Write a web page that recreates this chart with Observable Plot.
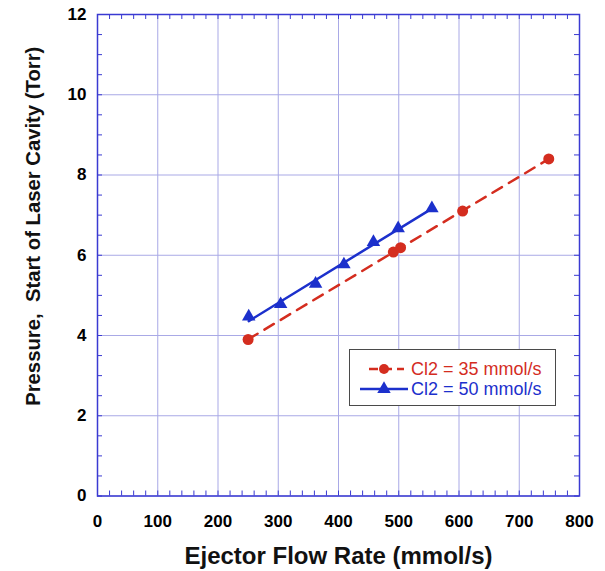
<!DOCTYPE html>
<html><head><meta charset="utf-8">
<script src="https://cdn.jsdelivr.net/npm/d3@7"></script>
<script src="https://cdn.jsdelivr.net/npm/@observablehq/plot@0.6"></script>
<style>
body{margin:0;background:#fff;font-family:"Liberation Sans",Arial,sans-serif;}
#wrap{position:relative;width:605px;height:571px;}
#legend{position:absolute;left:349px;top:349px;width:207px;height:57px;border:1.5px solid #4a4a4a;background:#fff;box-sizing:border-box;}
#legend svg{position:absolute;left:0;top:0;}
</style></head><body><div id="wrap"><div id="legend"></div></div>
<script>
// ---- data ----
const seriesNames = ["Cl2 = 35 mmol/s", "Cl2 = 50 mmol/s"];
const flow35 = [250, 491, 503, 606, 749];
const pres35 = [3.9, 6.08, 6.19, 7.1, 8.4];
const flow50 = [251, 304, 362, 409, 458, 499, 555];
const pres50 = [4.47, 4.78, 5.29, 5.77, 6.33, 6.67, 7.17];
const xTicks = [0, 100, 200, 300, 400, 500, 600, 700, 800];
const yTicks = [0, 2, 4, 6, 8, 10, 12];
const xLabel = "Ejector Flow Rate (mmol/s)";
const yLabel = "Pressure,  Start of Laser Cavity (Torr)";

const red = "#d42d1f", blue = "#1c30cc", grid = "#a9a9e6", frameBlue = "#3a3ad2";
const W = 605, H = 571, mL = 97, mR = 26, mT = 14, mB = 75.5;
const innerH = H - mT - mB, innerW = W - mL - mR;

const d35 = flow35.map((x, i) => ({x, y: pres35[i], s: seriesNames[0]}));
const d50 = flow50.map((x, i) => ({x, y: pres50[i], s: seriesNames[1]}));
const xMinor = d3.range(xTicks[0], xTicks[xTicks.length-1] + 1, 20);
const yMinor = d3.range(yTicks[0], yTicks[yTicks.length-1] + 0.01, 0.5);

const tickLen = 5;
const chart = Plot.plot({
  width: W, height: H,
  marginLeft: mL, marginRight: mR, marginTop: mT, marginBottom: mB,
  style: {fontFamily: "'Liberation Sans', Arial, sans-serif", background: "white"},
  x: {domain: [0, 800]},
  y: {domain: [0, 12]},
  marks: [
    Plot.gridX(xTicks, {stroke: grid, strokeOpacity: 1, strokeWidth: 1}),
    Plot.gridY(yTicks, {stroke: grid, strokeOpacity: 1, strokeWidth: 1}),
    Plot.tickX(xMinor, {x: d => d, insetTop: innerH - tickLen, stroke: frameBlue}),
    Plot.tickX(xMinor, {x: d => d, insetBottom: innerH - tickLen, stroke: frameBlue}),
    Plot.tickY(yMinor, {y: d => d, insetRight: innerW - tickLen, stroke: frameBlue}),
    Plot.tickY(yMinor, {y: d => d, insetLeft: innerW - tickLen, stroke: frameBlue}),
    Plot.frame({stroke: frameBlue, strokeWidth: 1.5}),
    Plot.axisX({ticks: xTicks, tickSize: 0, tickPadding: 19, label: null, fontSize: 17, fontWeight: "bold", fill: "black"}),
    Plot.axisY({ticks: yTicks, tickSize: 0, tickPadding: 11, label: null, fontSize: 17, fontWeight: "bold", fill: "black"}),
    Plot.linearRegressionY(d35, {x: "x", y: "y", ci: 0, stroke: red, strokeWidth: 2.5, strokeDasharray: "11,8"}),
    Plot.linearRegressionY(d50, {x: "x", y: "y", ci: 0, stroke: blue, strokeWidth: 2.5}),
    Plot.dot(d35, {x: "x", y: "y", r: 5.5, fill: red, symbol: "circle"}),
    Plot.dot(d50, {x: "x", y: "y", r: 5, fill: blue, symbol: "triangle"}),
    Plot.text([xLabel], {frameAnchor: "bottom", textAnchor: "middle", lineAnchor: "middle", dy: 60, fontSize: 24, fontWeight: "bold", fill: "#111"}),
    Plot.text([yLabel], {frameAnchor: "left", textAnchor: "middle", lineAnchor: "middle", rotate: -90, dx: -64, dy: -29, fontSize: 20.3, fontWeight: "bold", fill: "#111"})
  ]
});
document.getElementById("wrap").prepend(chart);
chart.style.position = "absolute"; chart.style.left = "0"; chart.style.top = "0";

// ---- legend ----
const lg = d3.select("#legend").append("svg").attr("width", 207).attr("height", 57);
const rows = [{name: seriesNames[0], color: red, dash: "9,5", sym: d3.symbolCircle, size: Math.PI*5*5, y: 19, x1: 19, x2: 54},
              {name: seriesNames[1], color: blue, dash: null, sym: d3.symbolTriangle, size: Math.PI*5*5, y: 39, x1: 10, x2: 58}];
rows.forEach(r => {
  lg.append("line").attr("x1", r.x1).attr("x2", r.x2).attr("y1", r.y).attr("y2", r.y)
    .attr("stroke", r.color).attr("stroke-width", 2.5).attr("stroke-dasharray", r.dash);
  lg.append("path").attr("d", d3.symbol(r.sym, r.size)()).attr("transform", `translate(34,${r.y})`).attr("fill", r.color);
  lg.append("text").attr("x", 61).attr("y", r.y).attr("dy", "0.36em").attr("fill", r.color)
    .attr("font-size", 18).attr("font-family", "'Liberation Sans', Arial, sans-serif").text(r.name);
});
</script></body></html>
